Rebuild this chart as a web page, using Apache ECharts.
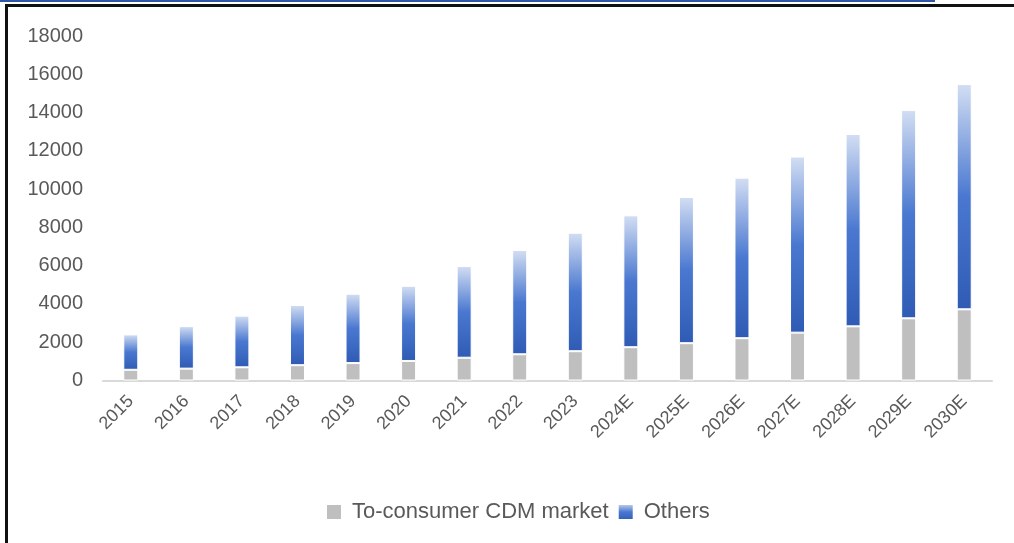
<!DOCTYPE html>
<html>
<head>
<meta charset="utf-8">
<script src="https://cdn.jsdelivr.net/npm/echarts@6/dist/echarts.min.js"></script>
<style>
html,body{margin:0;padding:0;background:#fff;}
#chart{width:1014px;height:543px;}
</style>
</head>
<body>
<div id="chart"></div>
<script>
const categories = ['2015','2016','2017','2018','2019','2020','2021','2022','2023','2024E','2025E','2026E','2027E','2028E','2029E','2030E'];
const consumerCDM = [560, 620, 690, 800, 910, 1020, 1190, 1370, 1530, 1740, 1950, 2210, 2500, 2830, 3250, 3720];
const totals = [2410, 2840, 3390, 3945, 4535, 4950, 5980, 6820, 7720, 8630, 9590, 10600, 11700, 12880, 14130, 15490];
const others = totals.map((t, i) => t - consumerCDM[i]);
const seriesNames = ['To-consumer CDM market', 'Others'];

const chart = echarts.init(document.getElementById('chart'), null, {renderer: 'canvas'});
const blueGrad = new echarts.graphic.LinearGradient(0, 0, 0, 1, [
  {offset: 0, color: '#d3def3'},
  {offset: 0.5, color: '#4a78d0'},
  {offset: 1, color: '#2f5bb5'}
]);
const font = 'Liberation Sans, Arial, sans-serif';
chart.setOption({
  animation: false,
  backgroundColor: '#fff',
  grid: {left: 103, right: 22, top: 36, bottom: 162.5, containLabel: false},
  xAxis: {
    type: 'category',
    data: categories,
    axisLine: {lineStyle: {color: '#d9d9d9', width: 2}},
    axisTick: {show: false},
    axisLabel: {rotate: 45, color: '#595959', fontSize: 18, fontFamily: font, margin: 18, interval: 0}
  },
  yAxis: {
    type: 'value',
    min: 0, max: 18000, interval: 2000,
    axisLine: {show: false},
    axisTick: {show: false},
    splitLine: {show: false},
    axisLabel: {color: '#595959', fontSize: 20, fontFamily: font, margin: 20, formatter: v => String(v)}
  },
  legend: {
    top: 496,
    left: 320,
    itemWidth: 16, itemHeight: 16,
    itemGap: 8,
    textStyle: {color: '#595959', fontSize: 22, fontFamily: font, padding: [0, 0, 0, 5]},
    data: [
      {name: seriesNames[0], icon: 'rect', itemStyle: {color: '#bfbfbf'}},
      {name: seriesNames[1], icon: 'rect', itemStyle: {color: blueGrad}}
    ]
  },
  graphic: [
    {type: 'rect', shape: {x: 0, y: 0, width: 935, height: 2}, style: {fill: '#2f55a4'}, silent: true},
    {type: 'rect', shape: {x: 5, y: 4, width: 1009, height: 3}, style: {fill: '#111'}, silent: true},
    {type: 'rect', shape: {x: 5, y: 4, width: 3, height: 539}, style: {fill: '#111'}, silent: true}
  ],
  series: [
    {
      name: seriesNames[0], type: 'bar', stack: 'total', data: consumerCDM,
      barWidth: 15,
      itemStyle: {color: '#bfbfbf', borderColor: '#fff', borderWidth: 1}
    },
    {
      name: seriesNames[1], type: 'bar', stack: 'total', data: others,
      barWidth: 15,
      itemStyle: {color: blueGrad, borderColor: '#fff', borderWidth: 1}
    }
  ]
});
</script>
</body>
</html>
